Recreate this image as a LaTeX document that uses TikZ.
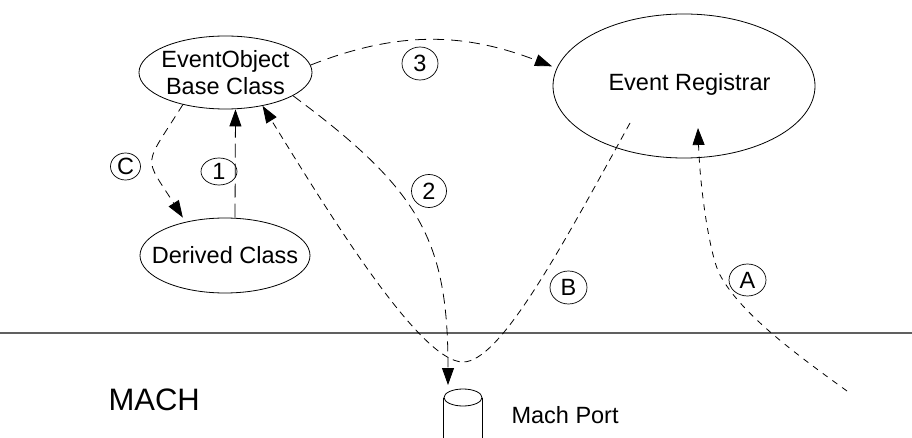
\documentclass[tikz,border=0pt]{standalone}
\usepackage{fontspec}
\setmainfont{Liberation Sans}
\usetikzlibrary{shapes.geometric,arrows.meta}
\definecolor{rulegray}{RGB}{96,96,96}
\begin{document}
\begin{tikzpicture}[x=1pt,y=-1pt,
  txt/.style={font=\fontsize{23.5}{27}\selectfont},
  oval/.style={draw, ellipse, line width=0.8pt, inner sep=0pt},
  tag/.style={draw, ellipse, line width=0.7pt, inner sep=0pt, txt},
  flow/.style={line width=0.8pt, -{Triangle[length=17pt,width=12pt]}},
  boundary/.style={draw=rulegray, line width=1.6pt},
]
\useasboundingbox (0,0) rectangle (912,438);

% kernel boundary
\coordinate (kl) at (0,333);
\coordinate (kr) at (912,333);
\draw[boundary] (kl) -- (kr);

% classes and registrar
\node[oval, minimum width=173pt, minimum height=73pt,
      label={[txt,align=center]center:{EventObject\\Base Class}}] (base) at (225.5,72.5) {};
\node[oval, minimum width=170pt, minimum height=75pt,
      label={[txt]center:Derived Class}] (derived) at (225,255.5) {};
\node[oval, minimum width=262pt, minimum height=144pt] (registrar) at (684,86) {};
\node[txt, anchor=base] (registrarname) at (689.5,91) {Event Registrar};

% mach port (cylinder cut by the lower edge)
\node[oval, minimum width=38pt, minimum height=17pt] (port) at (463,397.5) {};
\draw[line width=0.8pt] (port.west) -- ++(0,45);
\draw[line width=0.8pt] (port.east) -- ++(0,45);
\node[txt, anchor=base west] (portname) at (508,423) {Mach Port};
\node[font=\fontsize{31}{36}\selectfont, anchor=base west] (mach) at (105,410) {MACH};

% step tags
\node[tag, minimum width=30pt, minimum height=27pt] (tc) at (125.5,166.5) {C};
\node[tag, minimum width=36pt, minimum height=27pt] (t1) at (219,171.5) {1};
\node[tag, minimum width=35pt, minimum height=33pt] (t2) at (429,191) {2};
\node[tag, minimum width=36pt, minimum height=33pt] (t3) at (420,63.5) {3};
\node[tag, minimum width=37pt, minimum height=32pt] (ta) at (747.5,280) {A};
\node[tag, minimum width=37pt, minimum height=33pt] (tb) at (568.5,287.5) {B};

% free ends of the flows
\coordinate (portin) at (448,385);
\coordinate (bstart) at (630,123);
\coordinate (astart) at (847,391);
\coordinate (atip) at (698,128);

% flows
\draw[flow, dash pattern=on 14pt off 6pt] ([xshift=10pt]derived.north) -- ([xshift=10pt]base.south);
\draw[flow, dash pattern=on 8pt off 6pt] (base.217) .. controls (143,168) and (143,155) .. ([yshift=5pt]derived.142);
\draw[flow, dash pattern=on 11pt off 7pt, shorten >=5pt] (base.5) .. controls (400,30) and (465,33) .. (registrar.172);
\draw[flow, dash pattern=on 10pt off 6pt] (base.-19) .. controls (420,190) and (448,240) .. (portin);
\draw[flow, dash pattern=on 7pt off 5pt] (bstart) .. controls (560,250) and (500,362) .. (463,362)
      .. controls (420,362) and (330,215) .. (base.-42);
\draw[flow, dash pattern=on 6pt off 6pt] (astart) .. controls (790,350) and (740,312) .. (720,275)
      .. controls (710,256.5) and (700,190) .. (atip);
\end{tikzpicture}
\end{document}
